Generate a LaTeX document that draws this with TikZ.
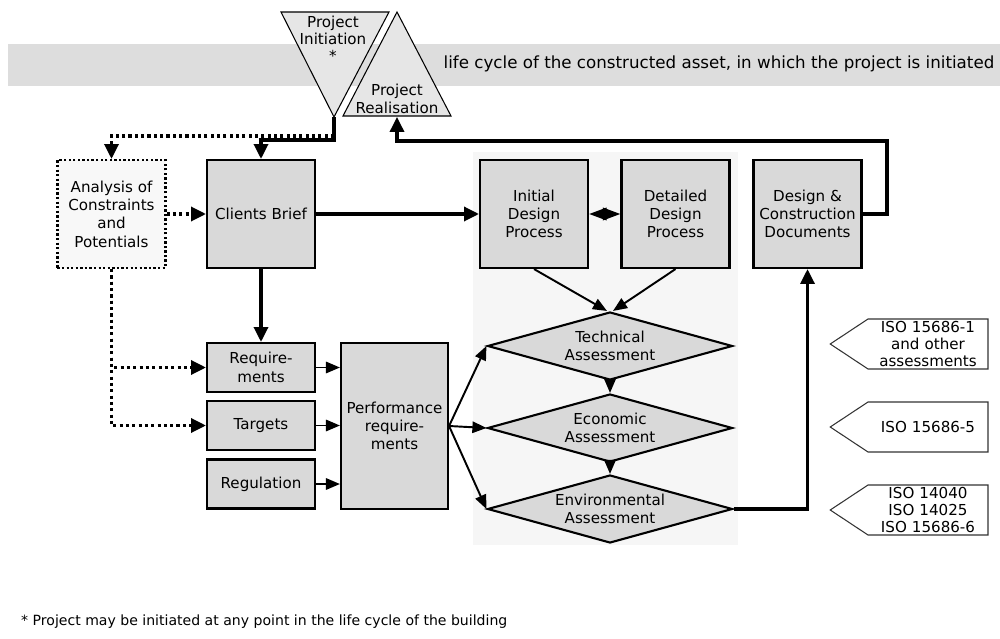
\documentclass[tikz,border=0pt]{standalone}
\usepackage{fontspec}
\setmainfont{DejaVu Sans}
\usepackage{xcolor}
\usepackage{tikz}
\usetikzlibrary{shapes,shapes.symbols,arrows.meta,calc}
\definecolor{boxgray}{HTML}{D9D9D9}
\definecolor{bandgray}{HTML}{DDDDDD}
\definecolor{trigray}{HTML}{E6E6E6}
\definecolor{panelgray}{HTML}{F6F6F6}
\definecolor{analgray}{HTML}{F8F8F8}

\tikzset{
  box/.style={draw, line width=1.2pt, fill=boxgray, minimum width=21.6mm, minimum height=21.6mm, align=center, inner sep=1pt},
  smallbox/.style={box, minimum height=9.8mm},
  assess/.style={diamond, draw, line width=1.2pt, fill=boxgray, minimum width=49mm, minimum height=13.6mm, aspect=3.6, inner sep=0pt, align=center},
  isotag/.style={signal, signal to=west, signal from=nowhere, signal pointer angle=67, draw=black!80, line width=0.6pt, fill=white, text width=22mm, align=center, inner xsep=1mm, inner ysep=0pt, minimum height=10mm, font=\fontsize{8.6}{9.4}\selectfont},
  fatline/.style={line width=1.8pt, -{Triangle[length=8.5pt,width=8pt]}},
  thinline/.style={line width=1.1pt, -{Triangle[length=8pt,width=6.5pt]}},
  dotline/.style={line width=1.8pt, dash pattern=on 1.8pt off 1.8pt, -{Triangle[length=8.5pt,width=8pt]}},
}

\begin{document}
\begin{tikzpicture}[x=0.2mm, y=-0.2mm, font=\fontsize{8.6}{10.4}\selectfont]
      \useasboundingbox (0,0) rectangle (1000,639);

      % Life cycle band
      \fill[bandgray] (8,44) rectangle (1000,86);
      \node (lifecycle) at (719,64) {\fontsize{9.5}{11}\selectfont life cycle of the constructed asset, in which the project is initiated};

      % Initiation and realisation triangles
      \draw[line width=0.6pt, fill=trigray] (281,12) -- (389,12) -- (334,117) -- cycle;
      \node[align=center, font=\fontsize{8.6}{9.8}\selectfont] (init-text) at (333,39) {Project\\Initiation\\*};
      \draw[line width=0.6pt, fill=trigray] (397,12) -- (451,116) -- (343,116) -- cycle;
      \node[align=center, font=\fontsize{8.6}{10.2}\selectfont] (real-text) at (397,99) {Project\\Realisation};
      \coordinate (pitip) at (334,117);
      \coordinate (prbase) at (397,117);
      \coordinate (split) at (334,140);
      \coordinate (splitdot) at (334,136);
      \coordinate (fbcorner) at (887,141);

      % Light panel behind design and assessment
      \fill[panelgray] (473,152) rectangle (738,545);

      % Top row
      \node[box, fill=analgray, draw, dash pattern=on 1.3pt off 1.3pt] (anal) at (111.5,214) {Analysis of\\Constraints\\and\\Potentials};
      \node[box] (brief) at (261,214) {Clients Brief};
      \node[box] (init) at (534,214) {Initial\\Design\\Process};
      \node[box] (detail) at (675.5,214) {Detailed\\Design\\Process};
      \node[box] (docs) at (807.5,214) {Design \&\\Construction\\Documents};

      % Requirements column
      \node[smallbox] (req) at (261,367.5) {Require-\\ments};
      \node[smallbox] (targ) at (261,425.5) {Targets};
      \node[smallbox] (regu) at (261,484) {Regulation};
      \node[box, minimum width=21.4mm, minimum height=33.2mm] (perf) at (394.5,426) {Performance\\require-\\ments};

      % Assessments
      \node[assess] (tech) at (610,346) {Technical\\Assessment};
      \node[assess] (econ) at (610,428) {Economic\\Assessment};
      \node[assess] (envi) at (610,509) {Environmental\\Assessment};

      % Standards
      \node[isotag] (iso1) at (928,344) {ISO 15686-1\\and other\\assessments};
      \node[isotag] (iso2) at (928,427) {ISO 15686-5};
      \node[isotag] (iso3) at (928,510) {ISO 14040\\ISO 14025\\ISO 15686-6};

      % Connectors
      \draw[dotline] (pitip) -- (splitdot) -| (anal.north);
      \draw[fatline] (pitip) -- (split) -| (brief.north);
      \draw[dotline] (anal.east) -- (brief.west);
      \draw[fatline] (brief.east) -- (init.west);
      \draw[line width=1.4pt, {Triangle[length=10pt,width=7pt]}-{Triangle[length=10pt,width=7pt]}] (init.east) -- (detail.west);
      \draw[fatline] (docs.east) -| (fbcorner) -| (prbase);
      \draw[fatline] (brief.south) -- (req.north);
      \draw[dotline] (anal.south) |- (targ.west);
      \draw[dotline] (anal.south) |- (req.west);
      \draw[thinline] (req.east) -- (req.east -| perf.west);
      \draw[thinline] (targ.east) -- (targ.east -| perf.west);
      \draw[thinline] (regu.east) -- (regu.east -| perf.west);
      \draw[thinline] (perf.east) -- (tech.west);
      \draw[thinline] (perf.east) -- (econ.west);
      \draw[thinline] (perf.east) -- (envi.west);
      \draw[thinline] (init.south) -- ($(tech.north)+(-3,0)$);
      \draw[thinline] (detail.south) -- ($(tech.north)+(3,0)$);
      \draw[thinline] (tech.south) -- (econ.north);
      \draw[thinline] (econ.south) -- (envi.north);
      \draw[fatline] (envi.east) -| (docs.south);

      % Footnote
      \node[anchor=west, font=\fontsize{8}{9.6}\selectfont] (note) at (15,622) {* Project may be initiated at any point in the life cycle of the building};
\end{tikzpicture}
\end{document}
